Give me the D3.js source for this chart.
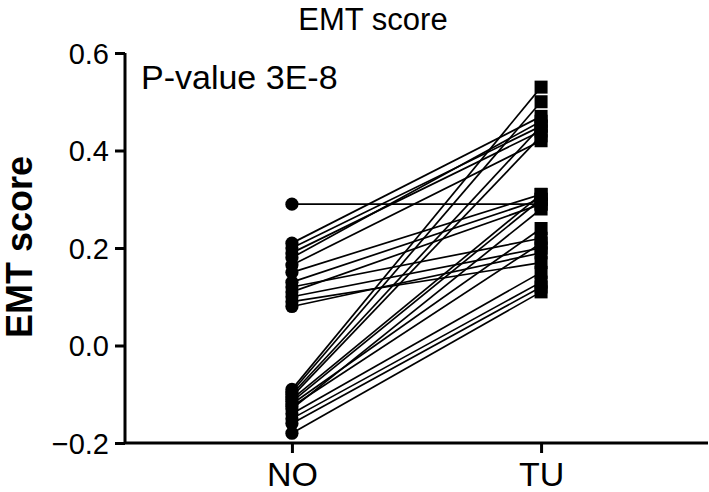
<!DOCTYPE html>
<html lang="en">
<head>
    <meta charset="UTF-8">
    <title>EMT score</title>
    <style>
        body { margin: 0; background: #fff; }
        text { font-family: "Liberation Sans", Arial, sans-serif; fill: #000; }
        .pairs line { stroke: #000; stroke-width: 1.7px; }
    </style>
</head>
<body>
<svg id="svg" width="709" height="492"></svg>
<script src="https://cdn.jsdelivr.net/npm/d3@7"></script>
<script>
    // paired samples, NO (normal) vs TU (tumour)
    const categories = ["NO", "TU"];
    const noScores = [0.29, 0.21, 0.20, 0.19, 0.18, 0.165, 0.15, 0.13, 0.12, 0.11, 0.10, 0.09, 0.08,
        -0.09, -0.095, -0.10, -0.105, -0.11, -0.115, -0.12, -0.125, -0.13, -0.14, -0.15, -0.16, -0.18];
    const tuScores = [0.29, 0.47, 0.45, 0.44, 0.46, 0.42, 0.31, 0.30, 0.22, 0.29, 0.20, 0.17, 0.19,
        0.53, 0.50, 0.45, 0.43, 0.31, 0.30, 0.24, 0.21, 0.28, 0.15, 0.13, 0.12, 0.11];
    const yTicks = [-0.2, 0.0, 0.2, 0.4, 0.6];
    const title = "EMT score";
    const yLabel = "EMT score";
    const pText = "P-value 3E-8";

    const svg = d3.select("svg");

    const x = d3.scalePoint().domain(categories).range([125, 708]).padding(0.67);
    const y = d3.scaleLinear().domain([-0.2, 0.6]).range([443, 53]);

    const pairs = noScores.map(function(v, i) { return {no: v, tu: tuScores[i]}; });

    // connecting lines
    svg.append("g").attr("class", "pairs")
        .selectAll("line")
        .data(pairs)
        .enter().append("line")
        .attr("x1", x("NO"))
        .attr("y1", function(d) { return y(d.no); })
        .attr("x2", x("TU"))
        .attr("y2", function(d) { return y(d.tu); });

    svg.append("g").selectAll("circle")
        .data(pairs)
        .enter().append("circle")
        .attr("cx", x("NO"))
        .attr("cy", function(d) { return y(d.no); })
        .attr("r", 6.6)
        .attr("fill", "#000");

    const sq = 13;
    svg.append("g").selectAll("rect")
        .data(pairs)
        .enter().append("rect")
        .attr("x", x("TU") - sq / 2)
        .attr("y", function(d) { return y(d.tu) - sq / 2; })
        .attr("width", sq)
        .attr("height", sq)
        .attr("fill", "#000");

    // axes
    const yAxis = svg.append("g")
        .attr("transform", "translate(125,0)")
        .call(d3.axisLeft(y).tickValues(yTicks).tickSize(10).tickPadding(6)
            .tickFormat(function(d) { return d < 0 ? "\u2212" + Math.abs(d).toFixed(1) : d.toFixed(1); }));
    yAxis.select(".domain").attr("d", "M0,53V443").attr("stroke-width", 3);
    yAxis.selectAll(".tick line").attr("stroke-width", 3);
    yAxis.selectAll("text").style("font-size", "29px").attr("dy", "0.36em");

    const xAxis = svg.append("g")
        .attr("transform", "translate(0,443)")
        .call(d3.axisBottom(x).tickSize(10).tickPadding(8));
    xAxis.select(".domain").attr("d", "M125,0H708").attr("stroke-width", 3);
    xAxis.selectAll(".tick line").attr("stroke-width", 3);
    xAxis.selectAll("text").style("font-size", "34px").attr("dy", "0.74em");

    svg.append("text")
        .attr("x", 373).attr("y", 30)
        .attr("text-anchor", "middle")
        .style("font-size", "31px")
        .text(title);

    svg.append("text")
        .attr("x", 141).attr("y", 89)
        .style("font-size", "34px")
        .text(pText);

    svg.append("text")
        .attr("transform", "translate(32,247) rotate(-90)")
        .attr("text-anchor", "middle")
        .style("font-size", "36px")
        .style("font-weight", "bold")
        .text(yLabel);
</script>
</body>
</html>
